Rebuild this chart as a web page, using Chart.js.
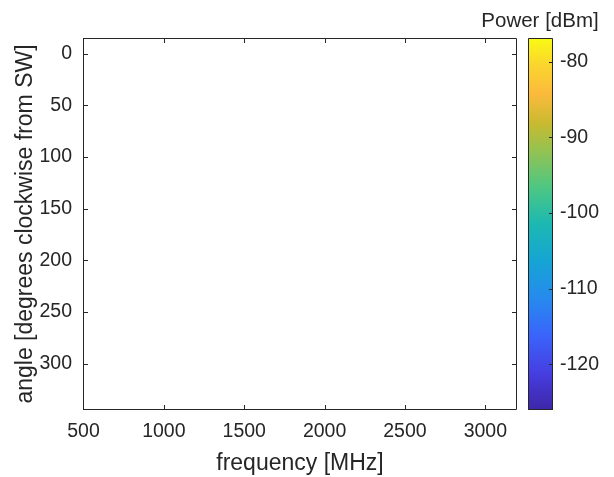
<!DOCTYPE html>
<html>
<head>
<meta charset="utf-8">
<script src="https://cdn.jsdelivr.net/npm/chart.js@4/dist/chart.umd.min.js"></script>
<style>
  html, body { margin: 0; padding: 0; background: #ffffff; }
  #wrap { position: relative; width: 614px; height: 477px; overflow: hidden; background: #ffffff; }
  #main { position: absolute; left: 0; top: 0; }
  #cbar { position: absolute; left: 480px; top: 0; }
</style>
</head>
<body>
<div id="wrap">
  <canvas id="main" width="614" height="477"></canvas>
  <canvas id="cbar" width="134" height="477"></canvas>
</div>
<script>
// ---- data ----
const freqData = [];            // no points plotted (empty axes)
const angleData = [];
const xTicks = [500, 1000, 1500, 2000, 2500, 3000];
const yTicks = [0, 50, 100, 150, 200, 250, 300];
const xRange = [497, 3197];
const yRange = [-15, 345];
const cbTicks = [-120, -110, -100, -90, -80];
const powerRange = [-126.04, -76.87];
const xTitle = 'frequency [MHz]';
const yTitle = 'angle [degrees clockwise from SW]';
const cbTitle = 'Power [dBm]';

// ---- styles ----
const INK = '#262626';
const FONT = "'Liberation Sans', Arial, Helvetica, sans-serif";
Chart.defaults.color = INK;
Chart.defaults.font.family = FONT;
const plain = v => String(v);

const parulaStops = [
  [0.00, 'rgb(62,38,168)'],
  [0.10, 'rgb(70,62,225)'],
  [0.20, 'rgb(58,100,250)'],
  [0.30, 'rgb(38,138,238)'],
  [0.40, 'rgb(22,164,212)'],
  [0.50, 'rgb(28,184,178)'],
  [0.60, 'rgb(78,199,130)'],
  [0.70, 'rgb(150,194,80)'],
  [0.77, 'rgb(200,186,48)'],
  [0.85, 'rgb(252,186,60)'],
  [0.93, 'rgb(250,214,45)'],
  [1.00, 'rgb(249,251,20)']
];

// box + inward ticks for main axes
const boxPlugin = {
  id: 'boxTicks',
  afterDraw(chart) {
    const {ctx, chartArea: a, scales} = chart;
    const L = 5;
    ctx.save();
    ctx.strokeStyle = INK;
    ctx.lineWidth = 1;
    ctx.beginPath();
    ctx.rect(a.left + 0.5, a.top + 0.5, a.right - a.left - 1, a.bottom - a.top - 1);
    ctx.stroke();
    ctx.beginPath();
    scales.x.ticks.forEach(t => {
      const px = Math.round(scales.x.getPixelForValue(t.value)) + 0.5;
      ctx.moveTo(px, a.bottom); ctx.lineTo(px, a.bottom - L);
      ctx.moveTo(px, a.top); ctx.lineTo(px, a.top + L);
    });
    scales.y.ticks.forEach(t => {
      const py = Math.round(scales.y.getPixelForValue(t.value)) + 0.5;
      ctx.moveTo(a.left, py); ctx.lineTo(a.left + L, py);
      ctx.moveTo(a.right, py); ctx.lineTo(a.right - L, py);
    });
    ctx.stroke();
    ctx.restore();
  }
};

new Chart(document.getElementById('main'), {
  type: 'scatter',
  data: {
    datasets: [{
      data: freqData.map((f, i) => ({x: f, y: angleData[i]})),
      pointRadius: 0
    }]
  },
  options: {
    responsive: false,
    animation: false,
    events: [],
    layout: { padding: { left: 0, right: 97, top: 38, bottom: 0 } },
    plugins: { legend: { display: false }, tooltip: { enabled: false } },
    scales: {
      x: {
        type: 'linear',
        min: xRange[0], max: xRange[1],
        afterBuildTicks: s => { s.ticks = xTicks.map(v => ({value: v})); },
        afterFit: s => { s.height = 67; },
        grid: { display: false, drawTicks: false },
        border: { display: false },
        ticks: { font: { size: 19.5 }, color: INK, padding: 10, maxRotation: 0, autoSkip: false, callback: plain },
        title: { display: true, text: xTitle, font: { size: 23 }, color: INK, padding: { top: 0, bottom: 0 } }
      },
      y: {
        type: 'linear',
        reverse: true,
        min: yRange[0], max: yRange[1],
        afterBuildTicks: s => { s.ticks = yTicks.map(v => ({value: v})); },
        afterFit: s => { s.width = 83; },
        grid: { display: false, drawTicks: false },
        border: { display: false },
        ticks: { font: { size: 19.5 }, color: INK, padding: 11, autoSkip: false, callback: plain },
        title: { display: true, text: yTitle, font: { size: 23 }, color: INK, padding: { top: 12, bottom: 0 } }
      }
    }
  },
  plugins: [boxPlugin]
});

// colorbar
const cbPlugin = {
  id: 'cbDeco',
  afterDraw(chart) {
    const {ctx, chartArea: a, scales} = chart;
    ctx.save();
    ctx.strokeStyle = INK;
    ctx.lineWidth = 1;
    ctx.beginPath();
    ctx.rect(a.left + 0.5, a.top + 0.5, a.right - a.left - 1, a.bottom - a.top - 1);
    ctx.stroke();
    ctx.beginPath();
    scales.y.ticks.forEach(t => {
      const py = Math.round(scales.y.getPixelForValue(t.value)) + 0.5;
      ctx.moveTo(a.right, py); ctx.lineTo(a.right - 4, py);
    });
    ctx.stroke();
    ctx.fillStyle = INK;
    ctx.font = '20.5px ' + FONT;
    ctx.textAlign = 'center';
    ctx.textBaseline = 'middle';
    ctx.fillText(cbTitle, (a.left + a.right) / 2 - 0.5, 21);
    ctx.restore();
  }
};

new Chart(document.getElementById('cbar'), {
  type: 'bar',
  data: {
    labels: [''],
    datasets: [{
      data: [powerRange],
      borderWidth: 0,
      barPercentage: 1,
      categoryPercentage: 1,
      backgroundColor: (c) => {
        const a = c.chart.chartArea;
        if (!a) return 'rgb(28,184,178)';
        const g = c.chart.ctx.createLinearGradient(0, a.bottom, 0, a.top);
        parulaStops.forEach(([t, col]) => g.addColorStop(t, col));
        return g;
      }
    }]
  },
  options: {
    responsive: false,
    animation: false,
    events: [],
    layout: { padding: { left: 48, right: 0, top: 38, bottom: 67 } },
    plugins: { legend: { display: false }, tooltip: { enabled: false } },
    scales: {
      x: { display: false },
      y: {
        position: 'right',
        min: powerRange[0], max: powerRange[1],
        afterBuildTicks: s => { s.ticks = cbTicks.map(v => ({value: v})); },
        afterFit: s => { s.width = 61; },
        grid: { display: false, drawTicks: false },
        border: { display: false },
        ticks: { font: { size: 19.5 }, color: INK, padding: 7, autoSkip: false, callback: plain }
      }
    }
  },
  plugins: [cbPlugin]
});
</script>
</body>
</html>
